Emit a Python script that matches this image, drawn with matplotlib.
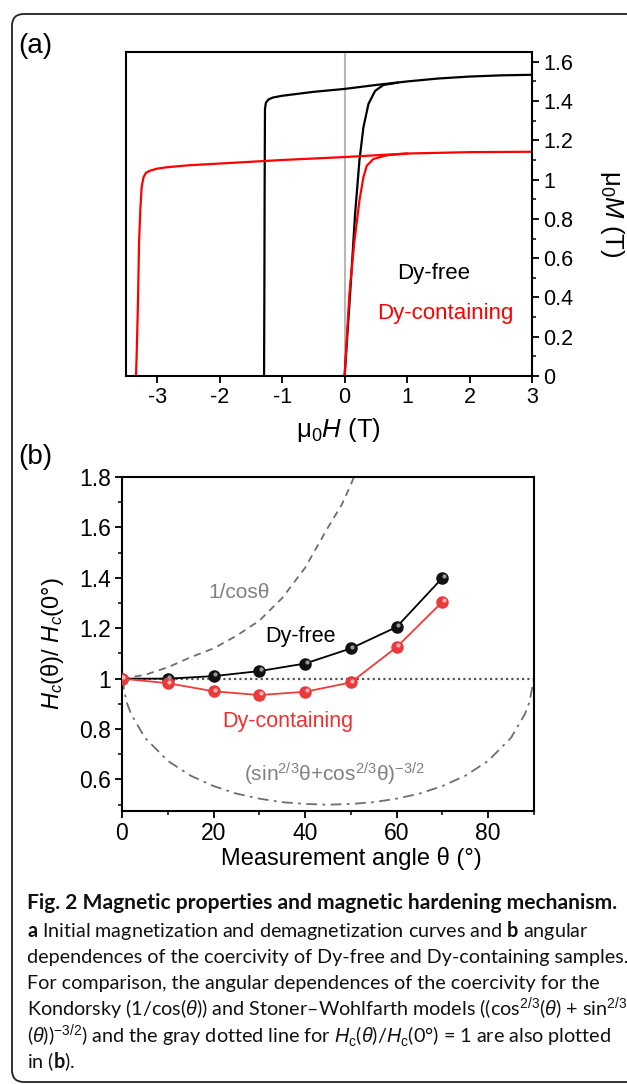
import numpy as np
import matplotlib
matplotlib.use("Agg")
import matplotlib.pyplot as plt
from matplotlib.patches import FancyBboxPatch
from matplotlib.transforms import offset_copy, IdentityTransform
from matplotlib.ticker import MultipleLocator

# ---- (a) initial magnetization + demagnetization curves ----
free_dem_H = [3.0, 2.5, 2.0, 1.5, 1.0, 0.5, 0.0, -0.5, -1.0, -1.15, -1.22, -1.26, -1.275, -1.28, -1.285, -1.29]
free_dem_M = [1.534, 1.531, 1.525, 1.515, 1.5, 1.482, 1.462, 1.447, 1.427, 1.418, 1.408, 1.392, 1.36, 1.0, 0.4, 0.0]
free_ini_H = [0.0, 0.088, 0.168, 0.237, 0.301, 0.381, 0.488, 0.621, 0.85]
free_ini_M = [0.0, 0.419, 0.826, 1.097, 1.266, 1.385, 1.452, 1.482, 1.494]

cont_dem_H = [3.0, 2.0, 1.0, 0.0, -1.0, -2.0, -2.5, -2.85, -3.0, -3.11, -3.18, -3.22, -3.25, -3.27, -3.29, -3.31, -3.33, -3.34]
cont_dem_M = [1.142, 1.14, 1.133, 1.115, 1.1, 1.082, 1.073, 1.063, 1.056, 1.046, 1.035, 1.012, 0.96, 0.85, 0.69, 0.35, 0.1, 0.0]
cont_ini_H = [0.0, 0.077, 0.152, 0.237, 0.301, 0.355, 0.461, 0.675, 1.0]
cont_ini_M = [0.0, 0.419, 0.673, 0.893, 1.012, 1.071, 1.105, 1.124, 1.133]

# ---- (b) angular dependence of coercivity ----
theta = [0, 10, 20, 30, 40, 50, 60, 70]
hc_free = [1.0, 1.0, 1.01, 1.03, 1.06, 1.12, 1.205, 1.40]
hc_cont = [1.0, 0.982, 0.95, 0.935, 0.948, 0.985, 1.125, 1.305]

# model curves as they appear in the figure
kond_theta = [0, 5, 10, 15, 20, 25, 30, 35, 40, 45, 48, 50, 52]
kond_val = [1.0, 1.015, 1.045, 1.085, 1.12, 1.17, 1.23, 1.32, 1.44, 1.6, 1.69, 1.77, 1.86]
sw_theta = [0, 1, 2, 5, 10, 15, 20, 25, 30, 35, 40, 45, 50, 55, 60, 65, 70, 75, 80, 85, 88, 89, 90]
sw_val = [1.0, 0.907, 0.859, 0.766, 0.674, 0.615, 0.574, 0.544, 0.524, 0.51, 0.503, 0.5,
          0.503, 0.51, 0.524, 0.544, 0.574, 0.615, 0.674, 0.766, 0.859, 0.907, 1.0]

plt.rcParams['font.family'] = ['Liberation Sans', 'DejaVu Sans']
plt.rcParams['mathtext.fontset'] = 'custom'
plt.rcParams['mathtext.rm'] = 'Liberation Sans'
plt.rcParams['mathtext.it'] = 'Liberation Sans:italic'
plt.rcParams['mathtext.bf'] = 'Lato:bold'
plt.rcParams['axes.linewidth'] = 1.5

W, H = 627, 1084
fig = plt.figure(figsize=(W / 100, H / 100), dpi=100)

# outer rounded frame
frame = FancyBboxPatch((12, 2), 660, 1068, boxstyle="round,pad=0,rounding_size=12",
                       transform=IdentityTransform(), fill=False, ec='#222222', lw=1.3)
fig.patches.append(frame)

# ================= panel (a) =================
ax1 = fig.add_axes([126 / W, 1 - 376 / H, 406 / W, 324 / H])
ax1.axvline(0, color='#b8b8b8', lw=1.5, zorder=1)
ax1.plot(free_dem_H, free_dem_M, color='black', lw=1.6)
ax1.plot(free_ini_H, free_ini_M, color='black', lw=1.6)
ax1.plot(cont_dem_H, cont_dem_M, color='#ff0000', lw=1.6)
ax1.plot(cont_ini_H, cont_ini_M, color='#ff0000', lw=1.6)
ax1.set_xlim(-3.5, 3)
ax1.set_ylim(0, 1.65)
ax1.set_xticks([-3, -2, -1, 0, 1, 2, 3])
ax1.set_xticklabels(['-3', '-2', '-1', '0', '1', '2', '3'])
ax1.yaxis.set_major_locator(MultipleLocator(0.2))
ax1.yaxis.set_minor_locator(MultipleLocator(0.1))
ax1.yaxis.tick_right()
ax1.tick_params(axis='both', which='major', direction='out', length=5, width=1.3, labelsize=15.5, pad=3)
ax1.tick_params(axis='y', which='minor', direction='out', length=3, width=1.1, left=False, right=True)
ax1.tick_params(axis='x', which='major', pad=3)
ax1.yaxis.set_major_formatter(plt.FuncFormatter(lambda v, p: ('%g' % round(v, 2))))
ax1.set_xlabel(r'μ$_0$$\mathit{H}$ (T)', fontsize=18.5)
ax1.xaxis.set_label_coords((338 - 126) / 406, -(430 - 376) / 324)
ax1.xaxis.label.set_va('center')
ax1.set_ylabel(r'μ$_0$$\mathit{M}$ (T)', fontsize=18.5, rotation=270)
ax1.yaxis.set_label_position('right')
ax1.yaxis.set_label_coords((612 - 126) / 406, 0.5)
ax1.yaxis.label.set(ha='center', va='center')
ax1.text(1.42, 0.52, 'Dy-free', color='black', fontsize=16, ha='center', va='center')
ax1.text(1.61, 0.32, 'Dy-containing', color='#ff0000', fontsize=16, ha='center', va='center')
fig.text(35 / W, 1 - 46 / H, '(a)', fontsize=20, ha='center', va='center')

# ================= panel (b) =================
ax2 = fig.add_axes([122 / W, 1 - 811 / H, 412 / W, 334 / H])
ax2.axhline(1.0, color='#555555', lw=1.6, ls=(0, (1, 1.4)), zorder=1)
ax2.plot(kond_theta, kond_val, color='#6e6e6e', lw=1.3, ls=(0, (4, 3)))
ax2.plot(sw_theta, sw_val, color='#6e6e6e', lw=1.3, ls=(0, (6, 3, 1.5, 3)))

hl = offset_copy(ax2.transData, fig=fig, x=1.0, y=1.2, units='points')
ax2.plot(theta, hc_free, color='black', lw=1.3, marker='o', ms=8, mfc='#111111', mec='#111111', zorder=3)
ax2.plot(theta, hc_free, ls='none', marker='o', ms=3, mfc='#9a9a9a', mec='none', transform=hl, zorder=4)
ax2.plot(theta, hc_cont, color='#f03c3c', lw=1.3, marker='o', ms=8, mfc='#ea3a3a', mec='#ea3a3a', zorder=3)
ax2.plot(theta, hc_cont, ls='none', marker='o', ms=3, mfc='#ffb4b4', mec='none', transform=hl, zorder=4)

ax2.set_xlim(0, 90)
ax2.set_ylim(0.475, 1.8)
ax2.xaxis.set_major_locator(MultipleLocator(20))
ax2.xaxis.set_minor_locator(MultipleLocator(10))
ax2.yaxis.set_major_locator(MultipleLocator(0.2))
ax2.yaxis.set_minor_locator(MultipleLocator(0.1))
ax2.yaxis.set_major_formatter(plt.FuncFormatter(lambda v, p: ('%g' % round(v, 2))))
ax2.tick_params(axis='both', which='major', direction='out', length=5, width=1.3, labelsize=16.5, pad=3)
ax2.tick_params(axis='both', which='minor', direction='out', length=3, width=1.1)
ax2.set_xlabel('Measurement angle θ (°)', fontsize=17)
ax2.xaxis.set_label_coords((351 - 122) / 412, -(859 - 811) / 334)
ax2.xaxis.label.set_va('center')
ax2.set_ylabel(r'$H_c$(θ)/ $H_c$(0°)', fontsize=17)
ax2.yaxis.set_label_coords(-(122 - 52) / 412, 0.5)
ax2.yaxis.label.set(ha='center', va='center')

ax2.text(25.5, 1.341, '1/cosθ', color='#808080', fontsize=15, ha='center', va='center')
ax2.text(38.9, 1.166, 'Dy-free', color='black', fontsize=15.5, ha='center', va='center')
ax2.text(36.3, 0.83, 'Dy-containing', color='#f03030', fontsize=15.5, ha='center', va='center')
ax2.text(46.3, 0.62, r'(sin$^{2/3}$θ+cos$^{2/3}$θ)$^{-3/2}$', color='#808080', fontsize=15,
         ha='center', va='center')
fig.text(35 / W, 1 - 457 / H, '(b)', fontsize=20, ha='center', va='center')

# ================= caption =================
cap_lines = [
    'Fig. 2 Magnetic properties and magnetic hardening mechanism.',
    r'$\mathbf{a}$ Initial magnetization and demagnetization curves and $\mathbf{b}$ angular',
    'dependences of the coercivity of Dy-free and Dy-containing samples.',
    'For comparison, the angular dependences of the coercivity for the',
    r'Kondorsky (1/cos($\mathit{θ}$)) and Stoner–Wohlfarth models ((cos$^{2/3}$($\mathit{θ}$) + sin$^{2/3}$',
    r'($\mathit{θ}$))$^{-3/2}$) and the gray dotted line for $H_\mathrm{c}$($\mathit{θ}$)/$H_\mathrm{c}$(0°) = 1 are also plotted',
    r'in ($\mathbf{b}$).',
]
cap_y = [903, 930, 957, 983, 1009, 1036, 1062]
for i, (s, yy) in enumerate(zip(cap_lines, cap_y)):
    fig.text(27 / W, 1 - yy / H, s, fontsize=15.1 if i == 0 else 14.2, family=['Lato', 'DejaVu Sans'],
             weight='bold' if i == 0 else 'normal', ha='left', va='center', color='#111111')

fig.savefig('out.png', dpi=100)
